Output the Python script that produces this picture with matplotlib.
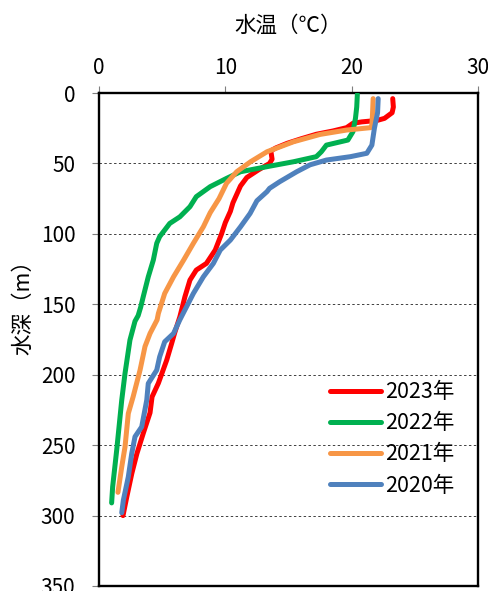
import matplotlib
matplotlib.use("Agg")
from matplotlib import pyplot as plt

plt.rcParams['font.family'] = ['Noto Sans CJK JP', 'DejaVu Sans']

# temperature (deg C) and depth (m)
temp_2023 = [23.25, 23.3, 23.2, 22.6, 22.0, 20.8, 20.1, 19.6, 18.5, 17.2, 16.0, 14.9, 14.0, 13.6,
             13.7, 13.5, 12.6, 11.7, 11.2, 10.9, 10.6, 10.4, 10.0, 9.7, 9.2, 8.5, 7.7, 7.2, 6.8,
             6.4, 6.0, 5.75, 5.36, 4.7, 4.2, 4.04, 3.5, 3.0, 2.6, 2.2, 1.9]
depth_2023 = [4, 10, 14, 18, 19.5, 20.5, 21.5, 24.6, 27, 29.3, 32.5, 35.7, 39, 41,
              47, 50, 54.7, 60, 66, 72, 78, 84, 92, 100, 111.5, 121, 125.7, 132.8, 144.7,
              158.9, 170, 177.8, 189.6, 206, 215.7, 227, 241.7, 256, 270, 286.7, 300]

temp_2022 = [20.45, 20.4, 20.3, 20.1, 19.7, 18.0, 17.6, 17.2, 15.4, 13.3, 11.2, 10.1, 8.8, 7.7,
             7.2, 6.4, 5.6, 4.8, 4.57, 4.3, 3.9, 3.5, 3.3, 3.1, 2.85, 2.45, 2.06, 1.8, 1.4,
             1.08, 1.0]
depth_2022 = [1, 10, 18, 27.5, 33.4, 37, 41.7, 45.2, 48.8, 52.3, 55.9, 60.6, 66.5, 73.6,
              80.7, 87.9, 92.6, 102, 106.7, 118.6, 130.5, 144.7, 152, 158, 162, 175.4, 199, 218, 253.6,
              279.6, 291]

temp_2021 = [21.7, 21.65, 21.6, 21.5, 19.6, 17.5, 15.4, 13.3, 12.0, 10.9, 10.4, 10.1, 9.5, 8.8,
             8.26, 7.47, 6.7, 5.9, 5.2, 4.7, 4.6, 4.04, 3.64, 3.25, 2.7, 2.32, 2.06, 1.8, 1.5]
depth_2021 = [4, 15, 22.7, 24.6, 26.3, 29.4, 34.6, 41.7, 48.8, 55.9, 61, 64, 75, 85,
              95, 106.7, 118.6, 130.5, 142.3, 156.5, 161, 170.7, 180, 196.7, 215.7, 227.5, 251.2, 265.4, 283.5]

temp_2020 = [22.1, 22.05, 21.8, 21.6, 21.2, 19.9, 18.0, 16.7, 15.65, 14.3, 13.5, 13.3, 12.5, 11.96,
             11.2, 10.4, 9.6, 9.05, 8.26, 7.47, 6.8, 6.4, 5.9, 5.2, 4.8, 4.57, 3.9, 3.78, 3.38,
             2.85, 2.59, 2.32, 1.93, 1.8]
depth_2020 = [4, 14, 25, 37, 42.8, 45.2, 47.6, 51, 55.9, 63, 67.7, 70, 76.5, 85.5,
              95, 104.4, 111.5, 121, 130.5, 142.3, 154, 161, 170.7, 176.6, 187.3, 196.7, 206.2, 218, 237,
              244, 256, 272.5, 289, 298]

labels = ["2023年", "2022年", "2021年", "2020年"]
colors = ["#FF0000", "#00B050", "#F79646", "#4F81BD"]
x_ticks = [0, 10, 20, 30]
y_ticks = [0, 50, 100, 150, 200, 250, 300, 350]

fig = plt.figure(figsize=(4.89, 5.91), dpi=100)
ax = fig.add_axes([99 / 489, 5 / 591, 379 / 489, 493 / 591])

series = [(temp_2023, depth_2023), (temp_2022, depth_2022),
          (temp_2021, depth_2021), (temp_2020, depth_2020)]
for (t, d), lab, c in zip(series, labels, colors):
    ax.plot(t, d, color=c, lw=3.6, label=lab, solid_capstyle='round', solid_joinstyle='round', zorder=3)

ax.set_xlim(0, 30)
ax.set_ylim(350, 0)
ax.set_xticks(x_ticks)
ax.set_yticks(y_ticks)
ax.xaxis.tick_top()
ax.xaxis.set_label_position('top')
ax.tick_params(axis='both', direction='out', length=5, width=0.8, color='#7f7f7f',
               labelsize=15)
ax.tick_params(axis='y', pad=12)
ax.tick_params(axis='x', pad=5)
for sp in ax.spines.values():
    sp.set_linewidth(1.7)
    sp.set_color('black')

ax.grid(axis='y', color='#404040', lw=0.7, linestyle=(0, (2.5, 2.5)))
ax.set_axisbelow(True)

ax.set_xlabel("水温（℃）", fontsize=15.5, labelpad=18)
ax.set_ylabel("水深（m）", fontsize=15.5)
ax.yaxis.set_label_coords(-0.17, 0.575)

ax.legend(loc='upper left', bbox_to_anchor=(0.61, 0.415), frameon=False, fontsize=15.5,
          handlelength=2.35, handletextpad=0.2, labelspacing=0.42, borderpad=0, borderaxespad=0)

fig.savefig("out.png", dpi=100)
